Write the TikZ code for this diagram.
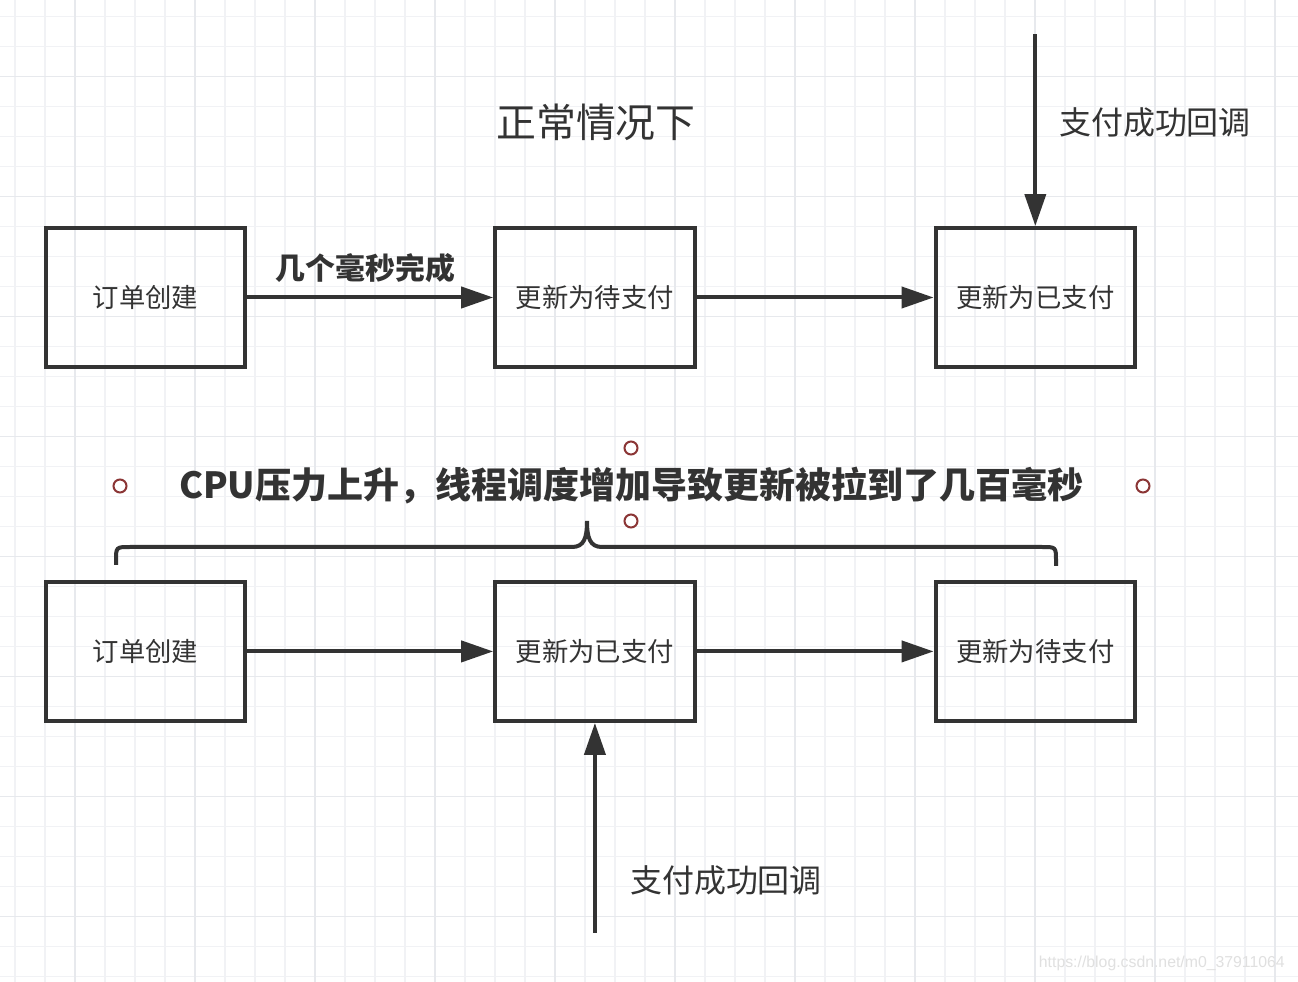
\documentclass[tikz,border=0pt]{standalone}
\usepackage{fontspec}
\setmainfont{Noto Sans CJK SC}
\newfontfamily\urlfont{Liberation Sans}
\usetikzlibrary{positioning,arrows.meta}
\definecolor{ink}{HTML}{333333}
\definecolor{gridc}{HTML}{F1F2F5}
\definecolor{gridm}{HTML}{E7E9ED}
\definecolor{dot}{HTML}{8B3535}

\begin{document}
\begin{tikzpicture}[x=0.02cm, y=-0.02cm, font=\fontsize{15pt}{18pt}\selectfont, b/.style={rectangle, draw=ink, line width=0.08cm, minimum width=3.99cm, minimum height=2.78cm, text=ink}, a/.style={-{Triangle[length=0.64cm, width=0.42cm]}, draw=ink, line width=0.08cm}, p/.style={circle, draw=dot, line width=0.04cm, minimum size=0.26cm, inner sep=0pt}]
		% grid paper
		\useasboundingbox (0,0) rectangle (1298,982);
		\fill[white] (0,0) rectangle (1298,982);
		\foreach \x in {15,45,...,1295} \draw[gridc, line width=0.03cm] (\x,0) -- (\x,982);
		\foreach \y in {16.5,46.5,...,976.5} \draw[gridc, line width=0.03cm] (0,\y) -- (1298,\y);
		\foreach \x in {75,195,...,1275} \draw[gridm, line width=0.03cm] (\x,0) -- (\x,982);
		\foreach \y in {76.5,196.5,...,916.5} \draw[gridm, line width=0.03cm] (0,\y) -- (1298,\y);

		% normal case
		\node[text=ink, font=\fontsize{22.7pt}{26pt}\selectfont] (title) at (596,122) {正常情况下};
		\node[b] (A) at (145.5,297.5) {订单创建};
		\node[b, right=4.92cm of A] (B) {更新为待支付};
		\node[b, right=4.74cm of B] (C) {更新为已支付};
		\coordinate[above=3.84cm of C.north] (C_in);
		\node[text=ink, font=\fontsize{18.2pt}{22pt}\selectfont] (C_label) at (1155,122) {支付成功回调};

		\path (A) edge[a] node[pos=0.48, above=4pt, text=ink, font=\bfseries\fontsize{17pt}{20pt}\selectfont] (AB_label) {几个毫秒完成} (B);
		\path (B) edge[a] (C);
		\path (C_in) edge[a] (C);

		% under cpu load
		\node[text=ink, font=\bfseries\fontsize{20.5pt}{24pt}\selectfont] (load) at (631.5,486) {CPU压力上升，线程调度增加导致更新被拉到了几百毫秒};
		\node[p] (p1) at (120,486) {};
		\node[p] (p2) at (631,448) {};
		\node[p] (p3) at (631,521) {};
		\node[p] (p4) at (1143,486) {};
		\draw[ink, line width=0.08cm] (116,565) -- (116,561) .. controls (116,547) .. (130,547) -- (572,547) .. controls (584,547) and (587,538) .. (587,521) .. controls (587,538) and (590,547) .. (602,547) -- (1042,547) .. controls (1056,547) .. (1056,561) -- (1056,566);

		\node[b, below=4.22cm of A] (D) {订单创建};
		\node[b, right=4.92cm of D] (E) {更新为已支付};
		\node[b, right=4.74cm of E] (F) {更新为待支付};
		\coordinate[below=4.2cm of E.south] (E_in);
		\node[text=ink, font=\fontsize{18.2pt}{22pt}\selectfont] (E_label) at (726,880) {支付成功回调};

		\path (D) edge[a] (E);
		\path (E) edge[a] (F);
		\path (E_in) edge[a] (E);

		\node[anchor=east, text=black!12, font=\urlfont\fontsize{9pt}{11pt}\selectfont] (url) at (1291,963) {https://blog.csdn.net/m0\_37911064};
	\end{tikzpicture}
\end{document}
